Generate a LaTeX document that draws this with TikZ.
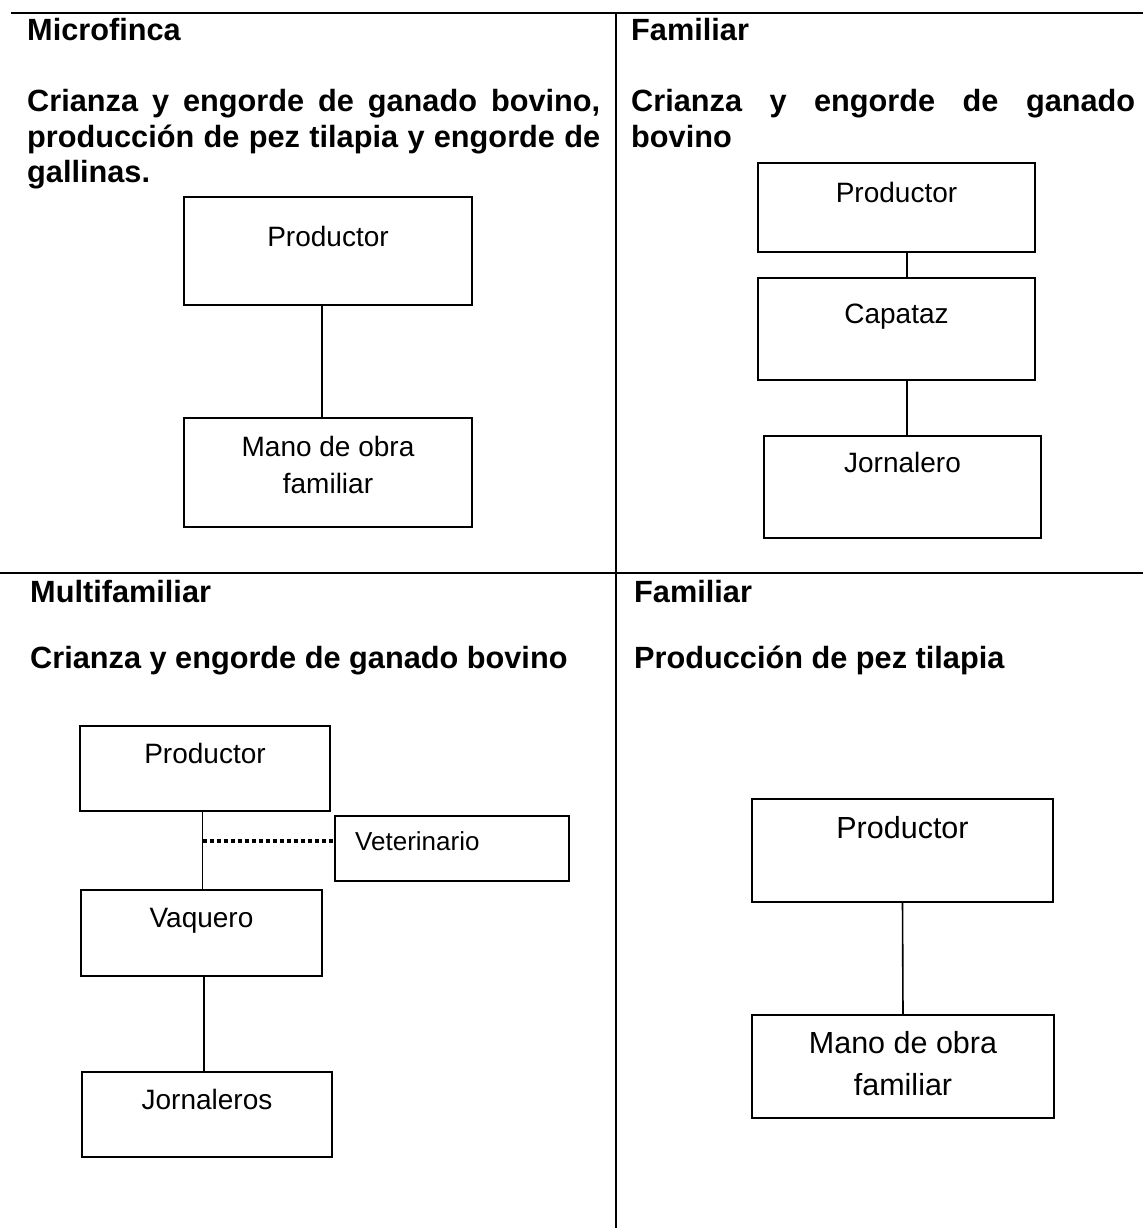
\documentclass[tikz,border=0pt]{standalone}
\usepackage{fontspec}
\setmainfont{Liberation Sans}
\usetikzlibrary{calc}
\tikzset{
  box/.style={draw, line width=1.6pt, anchor=north west, inner sep=0pt, outer sep=0pt},
  lbl/.style={anchor=base, inner sep=0pt, font=\fontsize{28}{33}\selectfont},
  lblbig/.style={anchor=base, inner sep=0pt, font=\fontsize{30.5}{35}\selectfont},
  lblsmall/.style={anchor=base west, inner sep=0pt, font=\fontsize{26}{31}\selectfont},
  head/.style={anchor=base west, inner sep=0pt, font=\fontsize{30.7}{35}\selectfont\bfseries},
  link/.style={line width=1.6pt},
  gridline/.style={line width=1.6pt},
  dotline/.style={line width=4pt, dash pattern=on 4pt off 3pt}
}
\begin{document}
\begin{tikzpicture}[x=1pt,y=-1pt]
\useasboundingbox (0,0) rectangle (1143,1228);
% table grid
\draw[gridline] (11,13) -- (1143,13);
\draw[gridline] (0,573) -- (1143,573);
\draw[gridline] (616,13) -- (616,1228);

% ---------- top-left ----------
\node[head] (h1) at (27,41) {Microfinca};
\node[head] (p1a) at (27,112) {\makebox[573pt][s]{Crianza y engorde de ganado bovino,}};
\node[head] (p1b) at (27,147) {\makebox[573pt][s]{producción de pez tilapia y engorde de}};
\node[head] (p1c) at (27,182) {gallinas.};
\node[box, minimum width=288pt, minimum height=108pt] (a1) at (184,197) {};
\node[box, minimum width=288pt, minimum height=109pt] (a2) at (184,418) {};
\node[lbl] (a1t) at (a1.north |- 0,246) {Productor};
\node[lbl] (a2t) at (a2.north |- 0,456) {Mano de obra};
\node[lbl] (a2u) at (a2.north |- 0,493) {familiar};
\draw[link] ($(a1.south west)!0.48!(a1.south east)$) coordinate (a1c) -- (a1c |- a2.north);

% ---------- top-right ----------
\node[head] (h2) at (631,41) {Familiar};
\node[head] (p2a) at (631,112) {\makebox[504pt][s]{Crianza y engorde de ganado}};
\node[head] (p2b) at (631,147) {bovino};
\node[box, minimum width=277pt, minimum height=89pt] (b1) at (758,163) {};
\node[box, minimum width=277pt, minimum height=102pt] (b2) at (758,278) {};
\node[box, minimum width=277pt, minimum height=102pt] (b3) at (764,436) {};
\node[lbl] (b1t) at (b1.north |- 0,202) {Productor};
\node[lbl] (b2t) at (b2.north |- 0,323) {Capataz};
\node[lbl] (b3t) at (b3.north |- 0,472) {Jornalero};
\draw[link] ($(b1.south west)!0.538!(b1.south east)$) coordinate (b1c) -- (b1c |- b2.north);
\draw[link] ($(b2.south west)!0.538!(b2.south east)$) coordinate (b2c) -- (b2c |- b3.north);

% ---------- bottom-left ----------
\node[head] (h3) at (30,602) {Multifamiliar};
\node[head] (p3a) at (30,668) {Crianza y engorde de ganado bovino};
\node[box, minimum width=250pt, minimum height=85pt] (c1) at (80,726) {};
\node[box, minimum width=234pt, minimum height=65pt] (c2) at (335,816) {};
\node[box, minimum width=241pt, minimum height=86pt] (c3) at (81,890) {};
\node[box, minimum width=250pt, minimum height=85pt] (c4) at (82,1072) {};
\node[lbl] (c1t) at (c1.north |- 0,763) {Productor};
\node[lblsmall] (c2t) at (355,850) {Veterinario};
\node[lbl] (c3t) at (c3.north |- 0,927) {Vaquero};
\node[lbl] (c4t) at (c4.north |- 0,1109) {Jornaleros};
\draw[link] ($(c1.south west)!0.49!(c1.south east)$) coordinate (c1c) -- (c1c |- c3.north);
\coordinate (cj) at ($(c1c)+(0,30)$);
\draw[dotline] (cj) -- (cj -| c2.west);
\draw[link] ($(c3.south west)!0.51!(c3.south east)$) coordinate (c3c) -- (c3c |- c4.north);

% ---------- bottom-right ----------
\node[head] (h4) at (634,602) {Familiar};
\node[head] (p4a) at (634,668) {Producción de pez tilapia};
\node[box, minimum width=301pt, minimum height=103pt] (d1) at (752,799) {};
\node[box, minimum width=302pt, minimum height=103pt] (d2) at (752,1015) {};
\node[lblbig] (d1t) at (d1.north |- 0,838) {Productor};
\node[lblbig] (d2t) at (d2.north |- 0,1053) {Mano de obra};
\node[lblbig] (d2u) at (d2.north |- 0,1095) {familiar};
\draw[link] (d1.south) -- (d2.north);
\end{tikzpicture}
\end{document}
